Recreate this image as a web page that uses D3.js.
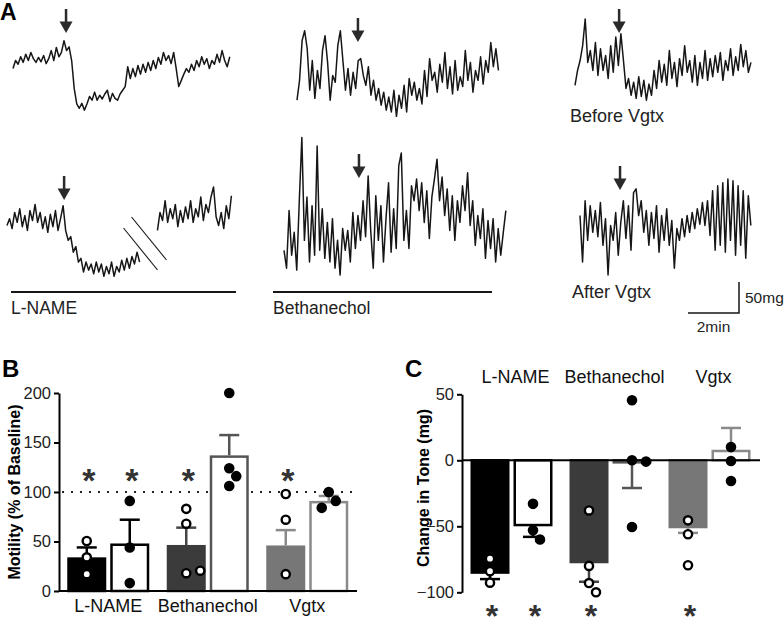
<!DOCTYPE html>
<html><head><meta charset="utf-8">
<script src="https://cdn.jsdelivr.net/npm/d3@7"></script>
<style>
body{margin:0;background:#fff}
svg{display:block;font-family:"Liberation Sans",Arial,Helvetica,sans-serif}
</style>
</head><body>
<svg id="fig" width="784" height="620"></svg>
<script>
// ---------------- DATA ----------------
const categories = ["L-NAME", "Bethanechol", "Vgtx"];

// Panel B: motility (% of baseline)
const motilityMean1 = [34, 46.5, 46];
const motilitySem1  = [10, 17.5, 15.5];
const motilityMean2 = [48, 137, 91];
const motilitySem2  = [24, 20.5, 5];
const motilityPts1  = [[50.5, 34, 17], [83, 68, 18, 20.5], [98, 72, 17]];
const motilityPts2  = [[91, 44, 8], [200, 124, 116, 106], [100, 91, 84]];
const motilityStar1 = [true, true, true];
const motilityStar2 = [true, false, false];
const motilityTicks = [0, 50, 100, 150, 200];
const baselinePct = 100;

// Panel C: change in tone (mg)
const toneMean1 = [-86, -78, -51.5];
const toneSem1  = [4, 14, 3.5];
const toneMean2 = [-50, -2.5, 8];
const toneSem2  = [8, 18.5, 16.5];
const tonePts1  = [[-74.5, -84, -92.7], [-38, -80, -93, -100], [-45.5, -56, -79.5]];
const tonePts2  = [[-33, -53, -60], [45.5, 0, -1, -50.5], [10, -0.5, -15.7]];
const toneStar1 = [true, true, true];
const toneStar2 = [true, false, false];
const toneTicks = [-100, -50, 0, 50];

// Panel A: tension traces (mg), one sample every 0.1 min
const traceStep = 0.1;
const lnameBefore = [91,104,98,110,101,114,104,117,107,101,109,102,112,99,107,120,104,125,110,117,136,120,126,104,59,34,27,35,24,34,46,40,53,40,48,42,50,56,38,51,43,40,50,56,62,94,75,91,78,96,82,98,85,101,88,104,91,109,98,117,104,112,99,117,91,62,72,82,91,85,98,88,104,94,110,98,107,91,104,98,114,101,120,104,94,110];
const lnameAfter = [96,107,91,117,101,123,94,112,88,120,104,130,101,117,91,110,85,114,94,120,88,107,128,88,72,78,53,62,37,43,21,37,24,34,18,37,21,34,14,30,18,37,14,30,21,40,24,43,27,46,34,53,37,null,null,null,null,null,null,88,117,104,136,101,123,107,130,94,120,101,126,107,136,101,123,110,142,104,130,117,142,158,110,96,117,91,128,107,144];
const bethBefore = [40,72,136,152,123,56,104,43,88,59,120,144,101,40,80,69,128,152,104,56,91,48,85,59,104,107,80,64,94,48,72,40,59,32,53,24,45,21,56,14,48,27,64,21,75,48,69,40,59,34,88,46,107,72,85,53,98,69,117,59,94,50,104,56,78,62,120,72,101,53,88,72,110,66,104,85,133,94,123,88];
const bethAfter = [56,27,120,48,85,24,136,238,72,142,37,128,48,224,56,123,43,101,37,107,27,72,16,91,56,88,37,117,59,112,72,136,78,176,88,27,144,72,128,37,107,165,53,123,59,192,213,72,120,59,160,136,171,120,165,101,152,75,142,171,203,136,174,112,155,88,144,72,136,101,160,120,181,96,136,64,112,75,123,43,104,59,107,37,91,48,85,120];
const vgtxBefore = [64,88,104,128,171,101,120,88,133,80,123,88,112,75,128,85,142,96,147,104,59,75,48,69,43,78,46,72,40,66,48,88,59,104,69,98,64,120,75,101,62,107,80,128,85,104,69,112,64,101,75,120,72,107,78,112,85,117,72,104,88,123,80,110,88,130,94,120,85,101];
const vgtxAfter = [112,37,136,72,128,85,120,78,133,64,107,16,96,72,117,48,101,136,75,128,56,149,155,112,136,85,120,64,117,75,128,53,112,72,123,64,104,27,91,72,107,78,112,85,117,91,123,98,133,96,136,80,152,56,160,64,165,53,171,72,168,48,160,64,152,43,144,96];
const arrowTimes = [2.08, 2.24, 2.39, 2.94, 1.73, 1.57]; // min, drug application
const traceLabels = ["L-NAME", "Bethanechol", "Before Vgtx", "After Vgtx"];
const scaleBarMg = 50, scaleBarMin = 2;

// ---------------- DRAW ----------------
const svg = d3.select("#fig");
const INK = "#161616";

// ---------- Panel A ----------
const tScale = d3.scaleLinear().domain([0, 1]).range([0, 25.5]);   // px per minute
const mgScale = d3.scaleLinear().domain([0, 50]).range([0, 31]);   // px per mg

const traces = [
  {v: lnameBefore, x0: 13,  base: 125, tip: 33},
  {v: lnameAfter,  x0: 7,   base: 285, tip: 200},
  {v: bethBefore,  x0: 297, base: 125, tip: 42},
  {v: bethAfter,   x0: 284, base: 285, tip: 178},
  {v: vgtxBefore,  x0: 575, base: 125, tip: 33},
  {v: vgtxAfter,   x0: 580, base: 285, tip: 190}
];
const gA = svg.append("g");
traces.forEach((tr, k) => {
  const line = d3.line()
    .defined(d => d != null)
    .x((d, i) => tr.x0 + tScale(i * traceStep))
    .y(d => tr.base - mgScale(d));
  gA.append("path").attr("d", line(tr.v))
    .attr("fill", "none").attr("stroke", INK).attr("stroke-width", 1.5)
    .attr("stroke-linejoin", "round");
  // arrow
  const ax = tr.x0 + tScale(arrowTimes[k]);
  gA.append("line").attr("x1", ax).attr("x2", ax).attr("y1", tr.tip - 24).attr("y2", tr.tip - 10)
    .attr("stroke", "#2a2a2a").attr("stroke-width", 2.5);
  gA.append("path").attr("d", `M${ax - 6.5},${tr.tip - 11.5}L${ax + 6.5},${tr.tip - 11.5}L${ax},${tr.tip}Z`)
    .attr("fill", "#2a2a2a");
});
// break marks in the second L-NAME trace
{
  const tr = traces[1];
  const nullIdx = tr.v.map((d, i) => d == null ? i : -1).filter(i => i >= 0);
  const gc = tr.x0 + tScale(((nullIdx[0] + nullIdx[nullIdx.length - 1]) / 2) * traceStep);
  [[-25, 228, 9, 270], [-17, 217, 18, 260]].forEach(s => {
    gA.append("line").attr("x1", gc + s[0]).attr("y1", s[1]).attr("x2", gc + s[2]).attr("y2", s[3])
      .attr("stroke", INK).attr("stroke-width", 1.1);
  });
}
// underline bars and labels
[[11, 236, traceLabels[0]], [273, 492, traceLabels[1]]].forEach(d => {
  gA.append("line").attr("x1", d[0]).attr("x2", d[1]).attr("y1", 292).attr("y2", 292)
    .attr("stroke", INK).attr("stroke-width", 2);
  gA.append("text").attr("x", d[0]).attr("y", 314).text(d[2])
    .attr("font-size", 17.5).attr("fill", "#222");
});
gA.append("text").attr("x", 570).attr("y", 122).text(traceLabels[2]).attr("font-size", 18).attr("fill", "#222");
gA.append("text").attr("x", 572).attr("y", 298).text(traceLabels[3]).attr("font-size", 18).attr("fill", "#222");
// scale bar
{
  const sx = 739, sy = 313;
  gA.append("path")
    .attr("d", `M${sx},${sy - mgScale(scaleBarMg)}L${sx},${sy}L${sx - tScale(scaleBarMin)},${sy}`)
    .attr("fill", "none").attr("stroke", INK).attr("stroke-width", 1.5);
  gA.append("text").attr("x", sx + 6).attr("y", 303).text(scaleBarMg + "mg").attr("font-size", 15.5).attr("fill", "#222");
  gA.append("text").attr("x", sx - tScale(scaleBarMin) / 2).attr("y", 332).attr("text-anchor", "middle")
    .text(scaleBarMin + "min").attr("font-size", 15.5).attr("fill", "#222");
}
svg.append("text").attr("x", 0).attr("y", 20).text("A").attr("font-size", 23).attr("font-weight", "bold");

// ---------- shared bar-panel helper ----------
const fills1 = ["#000000", "#3b3b3b", "#777777"];
const edge2  = ["#000000", "#555555", "#8a8a8a"];
const err1   = ["#000000", "#444444", "#8a8a8a"];

function dodge(vals, y, cx) {
  const placed = [];
  return vals.map(v => {
    const yy = y(v);
    for (const o of [0, 7, -7, 14, -14]) {
      if (placed.every(p => Math.hypot(p.x - (cx + o), p.y - yy) >= 10)) {
        const p = {x: cx + o, y: yy}; placed.push(p); return p;
      }
    }
    const p = {x: cx, y: yy}; placed.push(p); return p;
  });
}

function barPanel(g, x0, y, series) {
  const barW = 39, gap = 4;
  series.forEach((s, si) => {
    categories.forEach((c, ci) => {
      const cx0 = x0(c) + x0.bandwidth() / 2;
      const left = si === 0 ? cx0 - gap / 2 - barW : cx0 + gap / 2;
      const cx = left + barW / 2;
      const m = s.mean[ci];
      const fill = si === 0 ? fills1[ci] : "#ffffff";
      const stroke = si === 0 ? fills1[ci] : edge2[ci];
      const y0 = y(0), ym = y(m);
      g.append("rect")
        .attr("x", left + 1.25).attr("width", barW - 2.5)
        .attr("y", Math.min(y0, ym) + (m >= 0 ? 1.25 : 0))
        .attr("height", Math.max(0, Math.abs(y0 - ym) - 1.25))
        .attr("fill", fill).attr("stroke", stroke).attr("stroke-width", 2.5);
      // error bar away from zero
      const ye = y(m >= 0 ? m + s.sem[ci] : m - s.sem[ci]);
      const ec = si === 0 ? err1[ci] : edge2[ci];
      g.append("line").attr("x1", cx).attr("x2", cx).attr("y1", ym).attr("y2", ye)
        .attr("stroke", ec).attr("stroke-width", 2.5);
      g.append("line").attr("x1", cx - 10).attr("x2", cx + 10).attr("y1", ye).attr("y2", ye)
        .attr("stroke", ec).attr("stroke-width", 2.5);
      s.cx = s.cx || []; s.cx[ci] = cx;
    });
  });
  series.forEach((s, si) => {
    categories.forEach((c, ci) => {
      dodge(s.pts[ci], y, s.cx[ci]).forEach(p => {
        g.append("circle").attr("cx", p.x).attr("cy", p.y).attr("r", 4.1)
          .attr("fill", si === 0 ? "#ffffff" : "#000000")
          .attr("stroke", "#000").attr("stroke-width", 2.4);
      });
    });
  });
}

function styleAxis(sel) {
  sel.select(".domain").attr("stroke", "#000").attr("stroke-width", 2);
  sel.selectAll(".tick line").attr("stroke", "#000").attr("stroke-width", 2);
  sel.selectAll(".tick text").attr("fill", "#222").attr("font-size", 16.5)
    .attr("font-family", "'Liberation Sans',Arial,sans-serif");
}

// ---------- Panel B ----------
{
  const g = svg.append("g");
  const yB = d3.scaleLinear().domain([0, 200]).range([591, 393]);
  const xB = d3.scaleBand().domain(categories).range([58.5, 357]);
  g.append("line").attr("x1", 62).attr("x2", 357).attr("y1", yB(baselinePct)).attr("y2", yB(baselinePct))
    .attr("stroke", "#222").attr("stroke-width", 2).attr("stroke-dasharray", "2,7");
  const series = [
    {mean: motilityMean1, sem: motilitySem1, pts: motilityPts1, star: motilityStar1},
    {mean: motilityMean2, sem: motilitySem2, pts: motilityPts2, star: motilityStar2}
  ];
  barPanel(g, xB, yB, series);
  const ya = g.append("g").attr("transform", "translate(59,0)")
    .call(d3.axisLeft(yB).tickValues(motilityTicks).tickSize(5).tickSizeOuter(0).tickPadding(3));
  styleAxis(ya);
  const xa = g.append("g").attr("transform", `translate(0,${yB(0)})`)
    .call(d3.axisBottom(xB).tickSize(0).tickSizeOuter(0).tickPadding(8));
  styleAxis(xa);
  xa.selectAll(".tick text").attr("font-size", 18).attr("fill", "#111");
  xa.select(".domain").attr("d", `M59,0H357`);
  series.forEach(s => s.star.forEach((st, ci) => {
    if (st) g.append("text").attr("x", s.cx[ci] + 2).attr("y", yB(118) + 18).attr("text-anchor", "middle")
      .attr("font-size", 34).attr("font-weight", "bold").attr("fill", "#333").text("*");
  }));
  g.append("text").attr("transform", "translate(14,492) rotate(-90)").attr("text-anchor", "middle")
    .attr("dy", "0.35em").attr("font-size", 16).attr("font-weight", "bold").text("Motility (% of Baseline)");
  g.append("text").attr("x", 2).attr("y", 377).text("B").attr("font-size", 24).attr("font-weight", "bold");
}

// ---------- Panel C ----------
{
  const g = svg.append("g");
  const yC = d3.scaleLinear().domain([-100, 50]).range([592.3, 394.3]);
  const xC = d3.scaleBand().domain(categories).range([462, 759]);
  const series = [
    {mean: toneMean1, sem: toneSem1, pts: tonePts1, star: toneStar1},
    {mean: toneMean2, sem: toneSem2, pts: tonePts2, star: toneStar2}
  ];
  barPanel(g, xC, yC, series);
  const za = g.append("g").attr("transform", `translate(0,${yC(0)})`)
    .call(d3.axisBottom(xC).tickSize(0).tickSizeOuter(0).tickFormat(""));
  styleAxis(za);
  za.select(".domain").attr("d", "M462,0H760");
  const ya = g.append("g").attr("transform", "translate(462,0)")
    .call(d3.axisLeft(yC).tickValues(toneTicks).tickSize(5).tickSizeOuter(0).tickPadding(3));
  styleAxis(ya);
  categories.forEach(c => {
    g.append("text").attr("x", xC(c) + xC.bandwidth() / 2 + 4).attr("y", 383).attr("text-anchor", "middle")
      .attr("font-size", 18).attr("fill", "#111").text(c);
  });
  series.forEach(s => s.star.forEach((st, ci) => {
    if (st) g.append("text").attr("x", s.cx[ci] + 2).attr("y", yC(-100) + 35).attr("text-anchor", "middle")
      .attr("font-size", 32).attr("font-weight", "bold").attr("fill", "#333").text("*");
  }));
  g.append("text").attr("transform", "translate(423,488) rotate(-90)").attr("text-anchor", "middle")
    .attr("dy", "0.35em").attr("font-size", 16).attr("font-weight", "bold").text("Change in Tone (mg)");
  g.append("text").attr("x", 405).attr("y", 377).text("C").attr("font-size", 24).attr("font-weight", "bold");
}
</script>
</body></html>
